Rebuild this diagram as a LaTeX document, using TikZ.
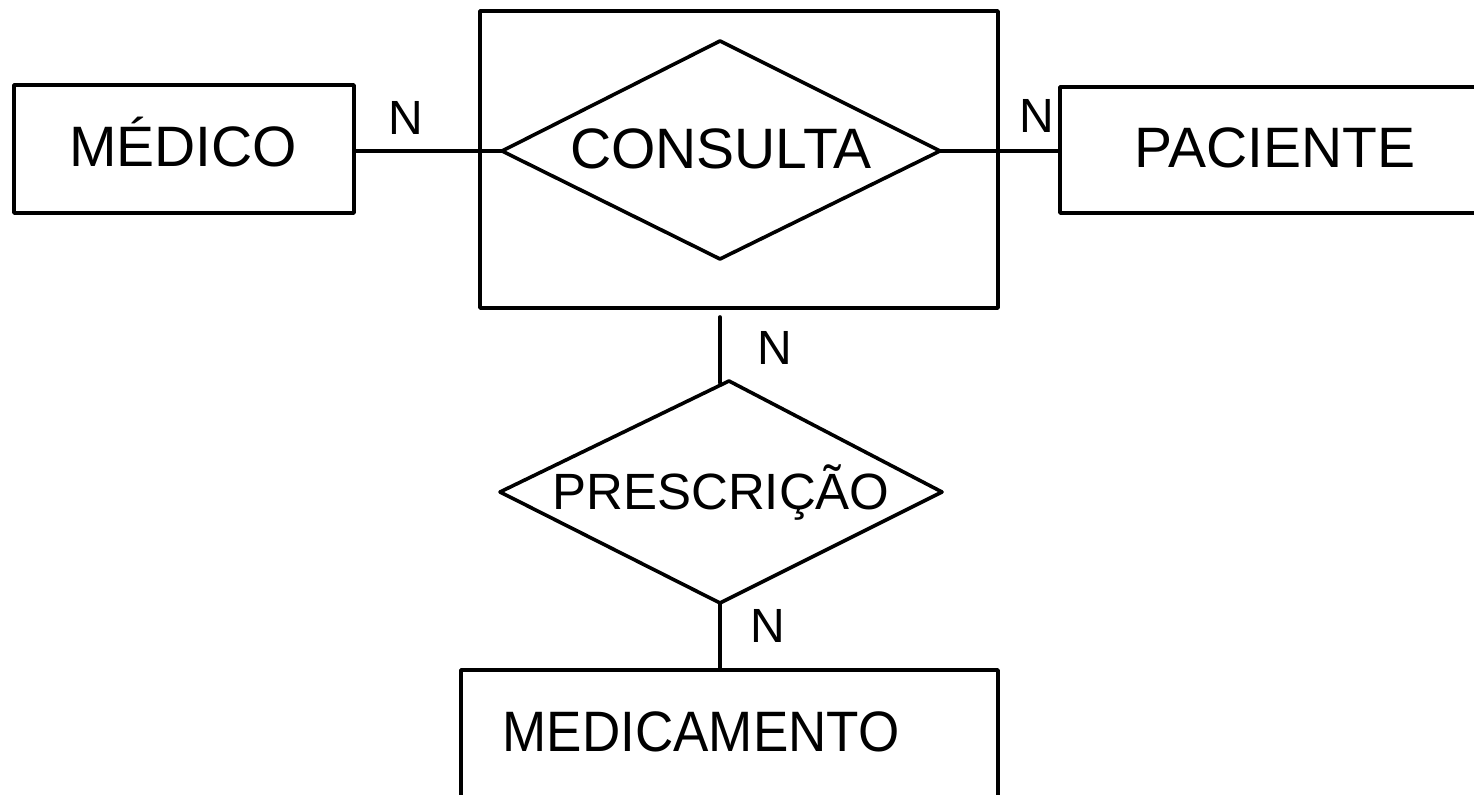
\documentclass[tikz,border=0pt]{standalone}
\usepackage{fontspec}
\setmainfont{Liberation Sans}
\begin{document}
\begin{tikzpicture}[x=0.5pt,y=-0.5pt,line width=1.8pt,line join=round,line cap=round,
  big/.style={font=\fontsize{28.5}{30}\selectfont,anchor=base,inner sep=0pt},
  mid/.style={font=\fontsize{25.5}{27}\selectfont,anchor=base,inner sep=0pt},
  card/.style={font=\fontsize{24}{26}\selectfont,anchor=base,inner sep=0pt}]
\useasboundingbox (0,0) rectangle (1474,795);
\clip (0,0) rectangle (1474,795);
% entities
\coordinate (medR) at (354,151);
\draw (14,85) rectangle (354,213);
\node[big] (medico) at (183,167) {MÉDICO};
\coordinate (pacL) at (1060,151);
\draw (1060,87) rectangle (1500,213);
\node[big] (paciente) at (1275,168) {PACIENTE};
\coordinate (medtop) at (720,670);
\draw (461,810) -- (461,670) -- (998,670) -- (998,810);
\node[big] (medicamento) at (701,752) {\scalebox{0.93}[1]{MEDICAMENTO}};
% aggregate
\draw (480,11) rectangle (998,308);
\coordinate (aggB) at (720,317);
% consulta diamond
\coordinate (cL) at (502,151);
\coordinate (cT) at (720,41);
\coordinate (cR) at (940,151);
\coordinate (cB) at (720,259);
\draw (cL) -- (cT) -- (cR) -- (cB) -- cycle;
\node[big] (consulta) at (721,169) {CONSULTA};
% prescricao diamond
\coordinate (pL) at (500,492);
\coordinate (pT) at (729,381);
\coordinate (pR) at (942,492);
\coordinate (pB) at (720,603);
\coordinate (pTl) at (720,383);
\draw (pL) -- (pT) -- (pR) -- (pB) -- cycle;
\node[mid] (prescricao) at (721,510) {PRESCRIÇÃO};
% connectors
\draw (medR) -- (cL);
\draw (cR) -- (pacL);
\draw (aggB) -- (pTl);
\draw (pB) -- (medtop);
% cardinalities
\node[card] (n1) at (406,135) {N};
\node[card] (n2) at (1037,133) {N};
\node[card] (n3) at (775,365) {N};
\node[card] (n4) at (768,643) {N};
\end{tikzpicture}
\end{document}
